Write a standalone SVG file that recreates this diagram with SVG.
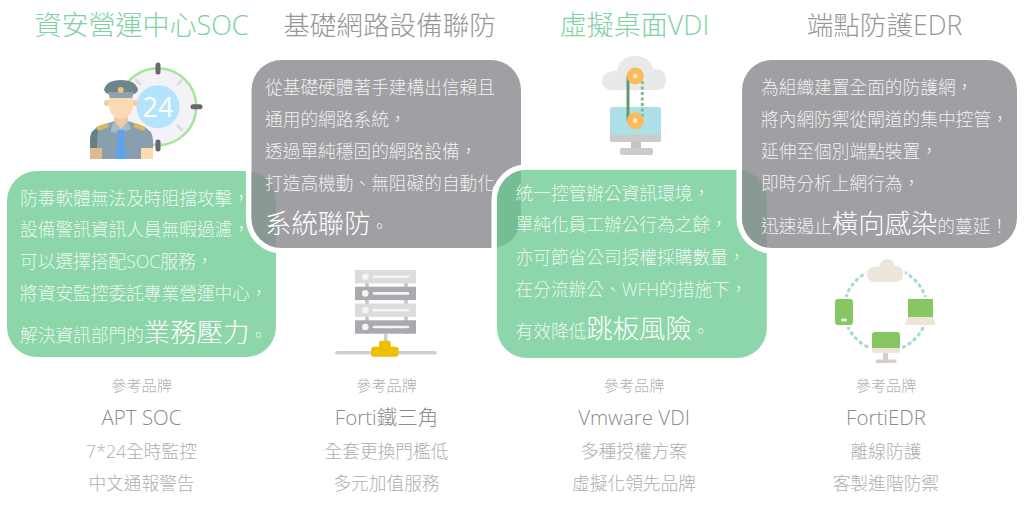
<svg xmlns="http://www.w3.org/2000/svg" width="1024" height="505" viewBox="0 0 1024 505">
<style>
text{font-family:"Open Sans","Noto Sans CJK TC","Noto Sans CJK SC",sans-serif;font-weight:300}
.tg{font-size:27px;text-anchor:middle;fill:#7ed1a0}
.tk{font-size:26.6px;text-anchor:middle;fill:#969698}
.b{font-size:17.7px;fill:#ffffff;fill-opacity:.86}
.big{font-size:26.4px;fill:#fff;fill-opacity:1}
.ref{font-size:15.2px;text-anchor:middle;fill:#b0b0b0}
.name{font-size:20.5px;text-anchor:middle;fill:#8b8b8b}
.sub{font-size:17.7px;text-anchor:middle;fill:#aeaeae}
.ring{fill:none;stroke:#fff;stroke-width:5.5}
.gc{fill:#8b8b90;fill-opacity:.82}
.grc{fill:#67c78e;fill-opacity:.75}
</style>
<g id="connectors"></g>
<g id="titles">
<text class="tg" x="141.500" y="34.500">資安營運中心SOC</text>
<text class="tk" x="389.500" y="34.500">基礎網路設備聯防</text>
<text class="tg" x="634.500" y="34.500">虛擬桌面VDI</text>
<text class="tk" x="884.500" y="34.500">端點防護EDR</text>
</g>
<g id="icon-soc">
<circle cx="157.700" cy="106.700" r="38.500" fill="#f3f2f6" stroke="#a6e59c" stroke-width="2.500"/>
<g stroke="#6b6670" stroke-width="5" stroke-linecap="round"><path d="M158 65v7M158 142v7M193 106.700h7"/></g>
<g stroke="#dcdce0" stroke-width="3" stroke-linecap="round"><path d="M178 84l4-4M178 126l4 4M140 84l-4-4"/></g>
<circle cx="158" cy="106.700" r="21.500" fill="#b4e4fb"/>
<text x="158" y="116.500" text-anchor="middle" font-size="27" fill="#fff" style="font-weight:400">24</text>
<path d="M90 159V140q0-10 10-14l14-5h14l14 5q11 4 11 14v19z" fill="#8a9fad"/>
<path d="M90 159V140q0-10 10-14l2-1q-5 6-5 16v18z" fill="#667f88"/>
<rect x="90" y="148" width="12" height="11" fill="#e2b98f"/>
<rect x="141" y="148" width="12" height="11" fill="#fdd9b4"/>
<path d="M114 113h14v12l-7 6-7-6z" fill="#f2c9a0"/>
<path d="M111 129l3-8 7 8 7-8 3 8-10 4-10-1z" fill="#a3bcc8"/>
<path d="M117 130h8l-1 5 2.500 24h-11l2.500-24z" fill="#5ea3ee"/>
<path d="M96 127l11-4 2 4-11 4zM146 127l-11-4-2 4 11 4z" fill="#d8b95f"/>
<circle cx="107" cy="103" r="3" fill="#f5cba4"/><circle cx="135" cy="103" r="3" fill="#f5cba4"/>
<path d="M109 94h24v11q0 12-12 14-12-2-12-14z" fill="#fddab6"/>
<path d="M104 90q2-10 17-10t17 10q-1 3-4 4h-26q-3-1-4-4z" fill="#6e858f"/>
<path d="M108 92h26l-2 6h-22z" fill="#8da3ad"/>
<circle cx="120.700" cy="90" r="3" fill="#e8c56c"/>
</g>
<g id="card-soc">
<rect x="7" y="171" width="269" height="186" rx="30" fill="#8dd6aa"/>
<text class="b" x="20" y="204.500">防毒軟體無法及時阻擋攻擊，</text>
<text class="b" x="20" y="236">設備警訊資訊人員無暇過濾，</text>
<text class="b" x="20" y="268">可以選擇搭配SOC服務，</text>
<text class="b" x="20" y="300">將資安監控委託專業營運中心，</text>
<text class="b" x="20" y="341.500">解決資訊部門的<tspan class="big">業務壓力</tspan>。</text>
</g>
<g id="card-network">
<rect class="ring" x="248.700" y="57.200" width="275" height="193.600" rx="33"/>
<rect class="gc" x="251.500" y="60" width="269.500" height="188" rx="30"/>
<text class="b" x="265" y="93.500">從基礎硬體著手建構出信賴且</text>
<text class="b" x="265" y="126">通用的網路系統，</text>
<text class="b" x="265" y="158">透過單純穩固的網路設備，</text>
<text class="b" x="265" y="190">打造高機動、無阻礙的自動化</text>
<text class="big" x="265" y="233">系統聯防<tspan class="b">。</tspan></text>
</g>
<g id="icon-server">
<path d="M367 270v64M406 270v64" stroke="#c4c4c8" stroke-width="3.500"/>
<rect x="355" y="270" width="61" height="13.400" fill="#dcdcde"/>
<rect x="355" y="286.700" width="61" height="13.400" fill="#a9a9ae"/>
<rect x="355" y="303.500" width="61" height="13.400" fill="#dcdcde"/>
<rect x="355" y="320.300" width="61" height="13.400" fill="#a9a9ae"/>
<g fill="#f4f4f4"><circle cx="365.300" cy="276.700" r="3.300"/><circle cx="365.300" cy="293.400" r="3.300"/><circle cx="365.300" cy="310.200" r="3.300"/><circle cx="365.300" cy="327" r="3.300"/>
<rect x="372.700" y="275.400" width="36.600" height="2.600" rx="1.300"/><rect x="372.700" y="292.100" width="36.600" height="2.600" rx="1.300"/><rect x="372.700" y="308.900" width="36.600" height="2.600" rx="1.300"/><rect x="372.700" y="325.700" width="36.600" height="2.600" rx="1.300"/></g>
<rect x="384" y="334" width="3.500" height="10" fill="#cfcfcf"/>
<rect x="335" y="351" width="102" height="3.500" rx="1.700" fill="#cfcfcf"/>
<path d="M383 340.700h5.700q2 0 2 2v4h5q3 0 3 3v4q0 3-3 3h-21.700q-3 0-3-3v-4q0-3 3-3h5v-4q0-2 2-2z" fill="#eebf00"/>
</g>
<g id="icon-vdi">
<path d="M612 90a9 9 0 0 1-2-18q3-2 7-1 3-15 18-15t18 13q13-1 13 11 0 10-9 10z" fill="#e9e9e9"/>
<rect x="610" y="107" width="51" height="35" rx="2.500" fill="#aedfe6"/>
<path d="M610 134.500h51v5q0 2.500-2.500 2.500h-46q-2.500 0-2.500-2.500z" fill="#cbcbcb"/>
<rect x="631" y="142" width="10" height="6.500" fill="#c4c4c4"/>
<rect x="620" y="148" width="33" height="7" rx="2" fill="#cbcbcb"/>
<path d="M628 76v45" stroke="#5f9a70" stroke-width="3"/>
<path d="M642.300 81v37" stroke="#7dbd90" stroke-width="3" stroke-dasharray="3 2.500"/>
<circle cx="635.300" cy="76" r="8.500" fill="#f9bb5c"/><circle cx="635.300" cy="76" r="2.400" fill="#fde7bf"/>
<circle cx="635.300" cy="120.700" r="8.500" fill="#f9bb5c"/><circle cx="635.300" cy="120.700" r="2.400" fill="#fde7bf"/>
</g>
<g id="card-vdi">
<rect class="ring" x="494.200" y="167" width="275.600" height="194" rx="33"/>
<rect class="grc" x="497" y="169.800" width="269.800" height="188.200" rx="30"/>
<text class="b" x="515.500" y="199.500">統一控管辦公資訊環境，</text>
<text class="b" x="515.500" y="231">單純化員工辦公行為之餘，</text>
<text class="b" x="515.500" y="263.500">亦可節省公司授權採購數量，</text>
<text class="b" x="515.500" y="295.500">在分流辦公、WFH的措施下，</text>
<text class="b" x="515.500" y="338">有效降低<tspan class="big">跳板風險</tspan>。</text>
</g>
<g id="card-edr">
<rect class="ring" x="739.200" y="57.200" width="280.600" height="193.600" rx="33"/>
<rect class="gc" x="742" y="60" width="275" height="188" rx="30"/>
<text class="b" x="761" y="93.500">為組織建置全面的防護網，</text>
<text class="b" x="761" y="126">將內網防禦從閘道的集中控管，</text>
<text class="b" x="761" y="158">延伸至個別端點裝置，</text>
<text class="b" x="761" y="190">即時分析上網行為，</text>
<text class="b" x="761" y="233">迅速遏止<tspan class="big">橫向感染</tspan>的蔓延！</text>
</g>
<g id="icon-edr">
<circle cx="885.700" cy="309.500" r="41.500" fill="none" stroke="#a9dcd0" stroke-width="3.200" stroke-linecap="round" stroke-dasharray="1.500 5"/>
<path d="M875 282a7.500 7.500 0 0 1-1-15q3-1 5 0 2-8 8-8t8 7q8 0 8 8 0 8-8 8z" fill="#ece5da" stroke="#fff" stroke-width="4" paint-order="stroke"/>
<rect x="835" y="299" width="18" height="26" rx="3" fill="#87c763" stroke="#fff" stroke-width="4" paint-order="stroke"/>
<rect x="841" y="318.500" width="6" height="3" rx="1.500" fill="#f2f2ea"/>
<path d="M908 299h25v18h-25z" fill="#87c763" stroke="#fff" stroke-width="4" paint-order="stroke"/>
<path d="M908 317h25l3 8h-31z" fill="#ede6d6"/>
<path d="M875 332h22q3 0 3 3v13h-28v-13q0-3 3-3z" fill="#87c763" stroke="#fff" stroke-width="4" paint-order="stroke"/>
<path d="M872 348h28v2q0 3-3 3h-22q-3 0-3-3z" fill="#ede6d6"/>
<rect x="883" y="353" width="5" height="7" fill="#d5cfc5"/>
<rect x="875.500" y="359.500" width="21" height="3.500" rx="1.700" fill="#d5cfc5"/>
</g>
<g id="caption-soc">
<text class="ref" x="141.500" y="391">參考品牌</text>
<text class="name" x="141.500" y="425">APT SOC</text>
<text class="sub" x="141.500" y="457.500">7*24全時監控</text>
<text class="sub" x="141.500" y="489.500">中文通報警告</text>
</g>
<g id="caption-network">
<text class="ref" x="386.500" y="391">參考品牌</text>
<text class="name" x="386.500" y="425">Forti鐵三角</text>
<text class="sub" x="386.500" y="457.500">全套更換門檻低</text>
<text class="sub" x="386.500" y="489.500">多元加值服務</text>
</g>
<g id="caption-vdi">
<text class="ref" x="634" y="391">參考品牌</text>
<text class="name" x="634" y="425">Vmware VDI</text>
<text class="sub" x="634" y="457.500">多種授權方案</text>
<text class="sub" x="634" y="489.500">虛擬化領先品牌</text>
</g>
<g id="caption-edr">
<text class="ref" x="886" y="391">參考品牌</text>
<text class="name" x="886" y="425">FortiEDR</text>
<text class="sub" x="886" y="457.500">離線防護</text>
<text class="sub" x="886" y="489.500">客製進階防禦</text>
</g>
</svg>
